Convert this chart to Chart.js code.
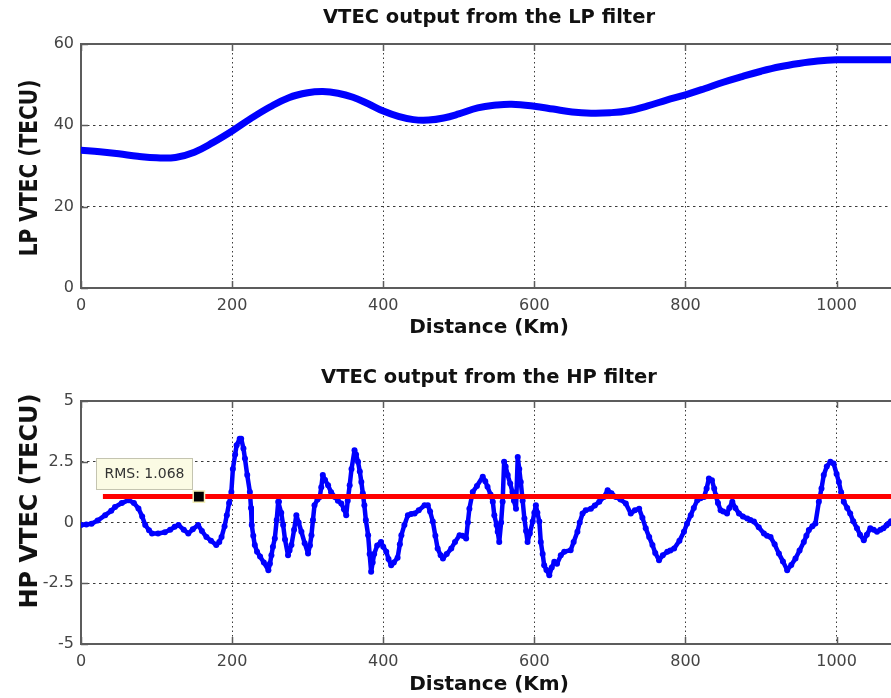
<!DOCTYPE html>
<html>
<head>
<meta charset="utf-8">
<script src="https://cdn.jsdelivr.net/npm/chart.js@4/dist/chart.umd.min.js"></script>
<style>
  html, body { margin: 0; padding: 0; background: #ffffff; }
  #wrap { position: relative; width: 891px; height: 698px; overflow: hidden; }
  #wrap canvas { position: absolute; left: 0; }
  #lpCanvas { top: 0; }
  #hpCanvas { top: 350px; }
</style>
</head>
<body>
<div id="wrap">
  <canvas id="lpCanvas" width="891" height="350"></canvas>
  <canvas id="hpCanvas" width="891" height="348"></canvas>
</div>
<script>
// ---- data ----
const DIST_MAX = 1072;
const distTicks = [0, 200, 400, 600, 800, 1000];
const lpTicks = [0, 20, 40, 60];
const hpTicks = [-5, -2.5, 0, 2.5, 5];

// Low-pass filtered VTEC (TECU) along the track
const lpDistance = [0, 25, 50, 75, 100, 125, 150, 175, 200, 225, 250, 275, 300, 320, 340, 360, 380, 400, 420, 440, 460, 480, 500, 525, 550, 570, 600, 625, 650, 675, 700, 725, 750, 775, 800, 825, 850, 875, 900, 925, 950, 975, 1000, 1025, 1050, 1072];
const lpVtec = [33.9, 33.5, 33.0, 32.4, 32.0, 32.1, 33.4, 35.8, 38.6, 41.7, 44.5, 46.8, 48.0, 48.3, 47.9, 46.9, 45.3, 43.5, 42.2, 41.4, 41.3, 41.8, 42.8, 44.3, 45.0, 45.2, 44.7, 44.0, 43.3, 43.0, 43.1, 43.6, 44.8, 46.2, 47.5, 49.0, 50.6, 52.0, 53.3, 54.4, 55.2, 55.8, 56.1, 56.1, 56.1, 56.1];

// High-pass filtered VTEC (TECU) along the track
const hpDistance = [0, 7, 14, 22, 32, 40, 45, 54, 63, 70, 76, 81, 85, 90, 94, 102, 111, 118, 124, 129, 136, 142, 148, 155, 160, 166, 172, 179, 183, 186, 190, 193, 196, 199, 201, 204, 206, 210, 212, 215, 217, 220, 223.5, 225, 226, 228, 230, 233, 237, 242, 248, 250, 252, 254, 256.5, 259, 261, 262, 265, 267.5, 270, 274, 276, 278.5, 282, 285, 288, 291.7, 296, 300.5, 303, 305, 307, 309, 313, 316, 318, 320, 323, 327, 331, 336, 340, 344.5, 348, 351, 353, 355.6, 358, 362, 364, 366.6, 369, 371, 373, 375, 377, 380, 382, 384, 386, 388, 392, 397, 400, 404, 407, 410.5, 414, 419, 422, 424, 428, 432.6, 437, 441.5, 447, 454.7, 459, 462, 465.6, 469, 472, 476, 479, 484, 490, 495, 501, 505, 509.7, 512, 514, 518.5, 524, 531.7, 535, 538, 542, 545, 547, 550, 551.5, 553.5, 556, 558, 560, 562, 564.7, 568, 571, 573, 575.7, 578, 580, 582, 584.5, 586.8, 589, 591, 594, 597.8, 600, 602, 604, 606.6, 608.5, 611, 613, 616, 619.8, 623, 626.4, 630, 635, 639.6, 648, 652, 657, 660, 663.8, 668, 674.8, 680, 685.9, 692, 697, 702, 707.8, 714, 721, 727.6, 733, 738.7, 743, 747.4, 752, 756.3, 760, 765, 770, 776, 780, 785, 792, 798, 802, 807, 811, 815.7, 820, 824.6, 828, 831, 835, 838, 840, 843, 846.5, 850, 855, 858, 862, 866, 870.8, 876, 881.8, 886, 890.6, 897, 903.8, 908, 912.6, 918, 923.6, 929, 934.6, 940, 945.6, 951, 956.6, 960, 963.3, 968, 972, 976.5, 980, 983, 987, 991.8, 996, 1000, 1003, 1006, 1009.5, 1014, 1018, 1022, 1027, 1031, 1036, 1040, 1044.6, 1049, 1053.5, 1058, 1062, 1066, 1069, 1072];
const hpVtec = [-0.10, -0.08, -0.05, 0.08, 0.30, 0.48, 0.64, 0.80, 0.92, 0.80, 0.58, 0.25, -0.10, -0.32, -0.45, -0.45, -0.40, -0.30, -0.18, -0.10, -0.30, -0.45, -0.28, -0.10, -0.35, -0.60, -0.75, -0.93, -0.80, -0.60, -0.15, 0.30, 0.80, 1.26, 2.20, 2.80, 3.18, 3.45, 3.45, 3.05, 2.63, 1.95, 1.26, 0.60, -0.10, -0.55, -0.93, -1.20, -1.40, -1.65, -1.96, -1.70, -1.35, -1.00, -0.66, 0.10, 0.85, 0.85, 0.40, -0.10, -0.70, -1.35, -1.15, -0.93, -0.30, 0.30, 0.00, -0.38, -0.85, -1.28, -0.95, -0.52, 0.10, 0.71, 0.95, 1.05, 1.45, 1.95, 1.75, 1.53, 1.25, 1.05, 0.90, 0.78, 0.55, 0.30, 0.90, 1.53, 2.20, 2.97, 2.80, 2.50, 2.10, 1.67, 1.20, 0.71, 0.10, -0.52, -1.30, -2.03, -1.65, -1.30, -0.95, -0.80, -1.00, -1.20, -1.50, -1.76, -1.65, -1.45, -0.90, -0.52, -0.10, 0.30, 0.35, 0.37, 0.50, 0.71, 0.71, 0.45, 0.04, -0.55, -1.07, -1.35, -1.48, -1.30, -1.07, -0.80, -0.52, -0.55, -0.66, 0.00, 0.57, 1.26, 1.50, 1.88, 1.70, 1.47, 1.15, 0.85, 0.30, -0.10, -0.38, -0.80, 0.00, 0.85, 2.50, 2.30, 1.95, 1.60, 1.26, 0.90, 0.57, 2.70, 2.20, 1.67, 0.90, 0.16, -0.35, -0.80, -0.45, 0.04, 0.40, 0.71, 0.40, 0.04, -0.80, -1.30, -1.76, -1.95, -2.17, -1.85, -1.62, -1.70, -1.35, -1.20, -1.14, -0.80, -0.38, 0.00, 0.37, 0.50, 0.57, 0.70, 0.85, 1.05, 1.33, 1.20, 1.05, 0.95, 0.78, 0.37, 0.50, 0.57, 0.20, -0.24, -0.60, -0.93, -1.25, -1.55, -1.35, -1.20, -1.15, -1.07, -0.75, -0.38, -0.05, 0.30, 0.60, 0.92, 1.00, 1.05, 1.40, 1.81, 1.74, 1.40, 1.12, 0.80, 0.50, 0.45, 0.37, 0.60, 0.85, 0.60, 0.37, 0.25, 0.16, 0.10, 0.04, -0.20, -0.45, -0.55, -0.60, -0.90, -1.28, -1.60, -1.96, -1.75, -1.48, -1.15, -0.80, -0.55, -0.31, -0.15, -0.04, 0.85, 1.40, 1.95, 2.30, 2.50, 2.43, 2.00, 1.67, 1.25, 0.85, 0.60, 0.37, 0.05, -0.24, -0.50, -0.73, -0.50, -0.24, -0.30, -0.38, -0.30, -0.24, -0.12, -0.04, 0.05];

// RMS of the high-pass output and where its data tip sits
const rmsValue = 1.068;
const rmsStart = 29;
const tipDistance = 156;

// ---- shared styling helpers ----
const FONT = "'DejaVu Sans', 'Liberation Sans', sans-serif";
const AXIS_COLOR = '#5c5c5c';
const GRID_COLOR = '#3a3a3a';

function toPoints(xs, ys) { return xs.map((x, i) => ({ x: x, y: ys[i] })); }

// Frame, inward tick marks and all titles, drawn the MATLAB way
function axesPlugin(opts) {
  return {
    id: 'matlabAxes',
    beforeDatasetsDraw(chart) {
      const { ctx, chartArea: a, scales } = chart;
      ctx.save();
      ctx.strokeStyle = AXIS_COLOR;
      ctx.lineWidth = 2;
      ctx.beginPath();
      ctx.moveTo(a.right + 2, a.top);
      ctx.lineTo(a.left, a.top);
      ctx.lineTo(a.left, a.bottom);
      ctx.lineTo(a.right + 2, a.bottom);
      ctx.stroke();
      ctx.lineWidth = 1.5;
      ctx.beginPath();
      const tl = 7;
      distTicks.forEach(v => {
        const px = Math.round(scales.x.getPixelForValue(v)) + 0.5;
        ctx.moveTo(px, a.bottom); ctx.lineTo(px, a.bottom - tl);
        ctx.moveTo(px, a.top); ctx.lineTo(px, a.top + tl);
      });
      opts.yTicks.forEach(v => {
        const py = Math.round(scales.y.getPixelForValue(v)) + 0.5;
        ctx.moveTo(a.left, py); ctx.lineTo(a.left + tl, py);
      });
      ctx.stroke();
      ctx.restore();
    },
    afterDraw(chart) {
      const { ctx } = chart;
      ctx.save();
      ctx.fillStyle = '#111';
      ctx.textAlign = 'center';
      ctx.textBaseline = 'middle';
      ctx.font = 'bold 19.5px ' + FONT;
      ctx.fillText(opts.title, opts.centerX, opts.titleY);
      ctx.font = 'bold 20px ' + FONT;
      ctx.fillText('Distance (Km)', opts.centerX, opts.xTitleY);
      ctx.translate(opts.yTitleX, opts.yTitleY);
      ctx.rotate(-Math.PI / 2);
      ctx.scale(opts.yTitleStretch, 1);
      ctx.font = 'bold 24px ' + FONT;
      ctx.fillText(opts.yTitle, 0, 0);
      ctx.restore();
      if (opts.afterDraw) opts.afterDraw(chart);
    }
  };
}

function xScale(plotHeightBelow) {
  return {
    type: 'linear', min: 0, max: DIST_MAX,
    afterFit(s) { s.height = plotHeightBelow; },
    afterBuildTicks(s) { s.ticks = distTicks.map(v => ({ value: v })); },
    ticks: { padding: 8, color: '#444', font: { family: FONT, size: 16 }, maxRotation: 0, autoSkip: false, callback: v => String(v) },
    grid: { color: GRID_COLOR, lineWidth: 1, drawTicks: false },
    border: { display: false, dash: [1.5, 3] }
  };
}

function yScale(min, max, ticks) {
  return {
    type: 'linear', min: min, max: max,
    afterFit(s) { s.width = 81; },
    afterBuildTicks(s) { s.ticks = ticks.map(v => ({ value: v })); },
    ticks: { padding: 7, color: '#444', font: { family: FONT, size: 16 }, callback: v => String(v) },
    grid: { color: GRID_COLOR, lineWidth: 1, drawTicks: false },
    border: { display: false, dash: [2.5, 3.5] }
  };
}

const common = {
  responsive: false,
  devicePixelRatio: 1,
  animation: false,
  events: [],
  plugins: { legend: { display: false }, tooltip: { enabled: false }, title: { display: false } }
};

// ---- LP chart ----
new Chart(document.getElementById('lpCanvas'), {
  type: 'line',
  data: {
    datasets: [{
      data: toPoints(lpDistance, lpVtec),
      borderColor: '#0000ff',
      borderWidth: 7,
      pointRadius: 0,
      tension: 0.4,
      borderCapStyle: 'round'
    }]
  },
  options: Object.assign({}, common, {
    layout: { autoPadding: false, padding: { top: 44, left: 0, right: 0, bottom: 0 } },
    scales: { x: xScale(62), y: yScale(0, 60, lpTicks) }
  }),
  plugins: [axesPlugin({
    title: 'VTEC output from the LP filter', yTitle: 'LP VTEC (TECU)', yTicks: lpTicks,
    centerX: 489, titleY: 18, xTitleY: 328, yTitleX: 31, yTitleY: 168, yTitleStretch: 0.84
  })]
});

// ---- HP chart ----
function drawDataTip(chart) {
  const { ctx, scales } = chart;
  const mx = scales.x.getPixelForValue(tipDistance);
  const my = scales.y.getPixelForValue(rmsValue);
  const bx = Math.round(mx - 103) + 0.5, by = Math.round(my - 38.5) + 0.5;
  ctx.save();
  ctx.fillStyle = '#fbfbe4';
  ctx.strokeStyle = '#c4c4b0';
  ctx.lineWidth = 1;
  ctx.fillRect(bx, by, 96, 31);
  ctx.strokeRect(bx, by, 96, 31);
  ctx.fillStyle = '#333';
  ctx.font = '14px ' + FONT;
  ctx.textAlign = 'left';
  ctx.textBaseline = 'middle';
  ctx.fillText('RMS: ' + rmsValue.toFixed(3), bx + 8, by + 16);
  ctx.restore();
}

new Chart(document.getElementById('hpCanvas'), {
  type: 'line',
  data: {
    datasets: [
      {
        // data tip marker on the RMS line
        data: [{ x: tipDistance, y: rmsValue }],
        showLine: false,
        pointStyle: 'rect',
        pointRadius: 8,
        pointBackgroundColor: '#000',
        pointBorderColor: '#f3efb8',
        pointBorderWidth: 1.5
      },
      {
        // RMS level
        data: [{ x: rmsStart, y: rmsValue }, { x: DIST_MAX, y: rmsValue }],
        borderColor: '#ff0000',
        borderWidth: 5,
        pointRadius: 0
      },
      {
        data: toPoints(hpDistance, hpVtec),
        borderColor: '#0000ff',
        borderWidth: 4.5,
        borderJoinStyle: 'round',
        pointRadius: 3,
        pointBackgroundColor: '#0000ff',
        pointBorderWidth: 0,
        tension: 0
      }
    ]
  },
  options: Object.assign({}, common, {
    layout: { autoPadding: false, padding: { top: 51, left: 0, right: 0, bottom: 0 } },
    scales: { x: xScale(54), y: yScale(-5, 5, hpTicks) }
  }),
  plugins: [axesPlugin({
    title: 'VTEC output from the HP filter', yTitle: 'HP VTEC (TECU)', yTicks: hpTicks,
    centerX: 489, titleY: 28, xTitleY: 335, yTitleX: 31, yTitleY: 151, yTitleStretch: 1.0,
    afterDraw: drawDataTip
  })]
});
</script>
</body>
</html>
